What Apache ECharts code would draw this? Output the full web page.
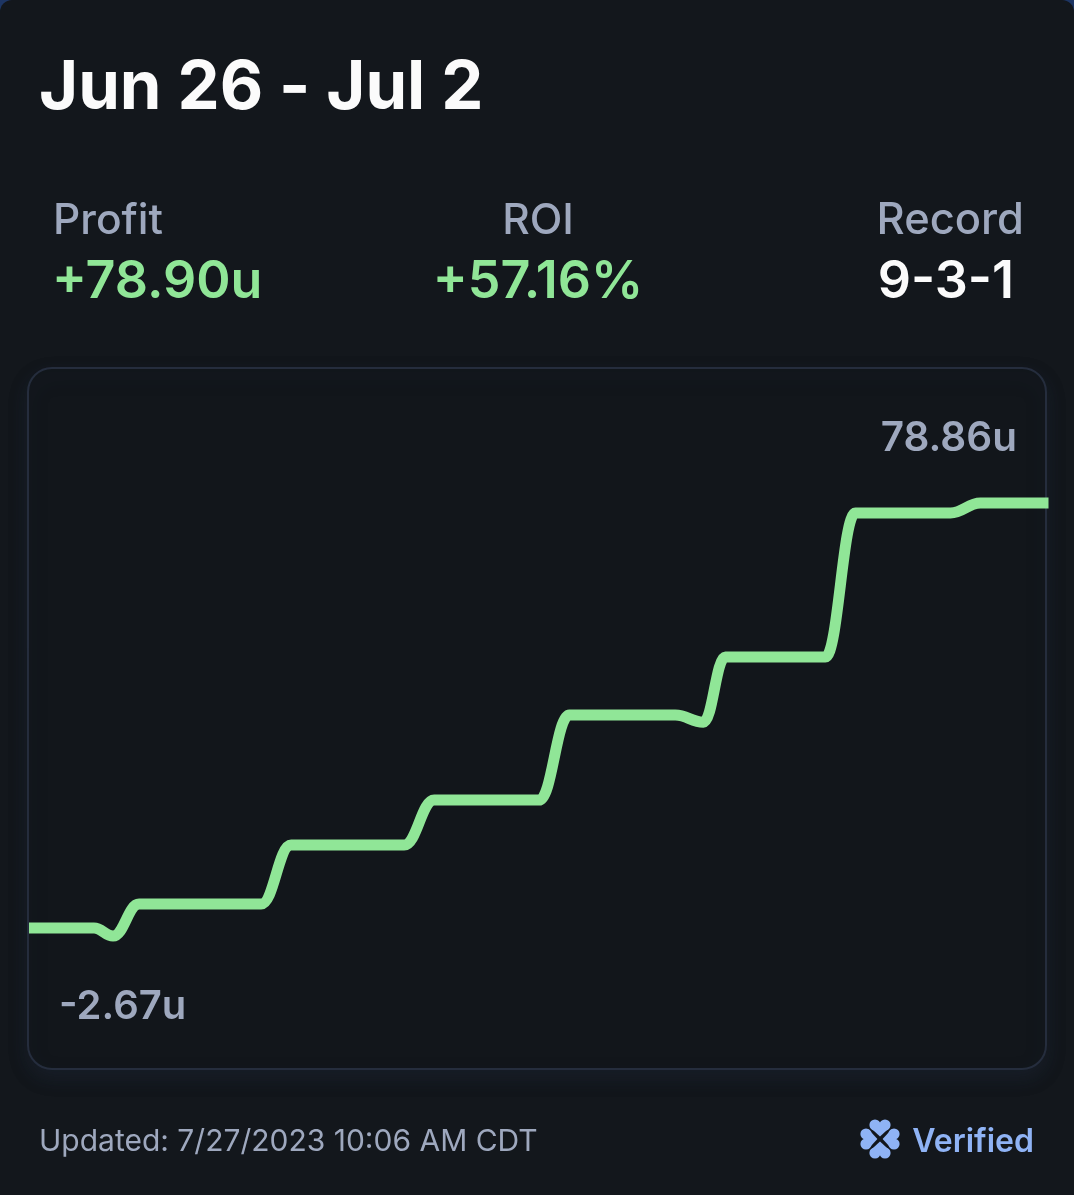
<!DOCTYPE html>
<html>
<head>
<meta charset="utf-8">
<title>Jun 26 - Jul 2</title>
<script src="https://cdn.jsdelivr.net/npm/echarts@6/dist/echarts.min.js"></script>
<style>
  html, body { margin: 0; padding: 0; background: #1d3563; }
  #chart { width: 1074px; height: 1195px; }
</style>
</head>
<body>
<div id="chart"></div>
<script>
// progress along the week
const progress = [0, 65, 84, 110, 232, 262, 375, 405, 510, 540, 646, 674, 696, 796, 826, 921, 951, 1019];
// running profit in units
const profit = [-1.16, -1.16, -2.67, 3.36, 3.36, 14.47, 14.47, 22.94, 22.94, 38.95, 38.95, 37.6, 49.87, 49.87, 76.99, 76.99, 78.86, 78.86];

const title = 'Jun 26 - Jul 2';
const statLabels = ['Profit', 'ROI', 'Record'];
const statValues = ['+78.90u', '+57.16%', '9-3-1'];
const lowLabel = '-2.67u';
const highLabel = '78.86u';
const updated = 'Updated: 7/27/2023 10:06 AM CDT';
const verified = 'Verified';

const FONT = 'Inter, "Noto Sans", sans-serif';
const GREY = '#9ea8be';
const GREEN = '#90e697';
const BLUE = '#8fb3f5';

function label(text, x, y, size, color, weight, align) {
  return {
    type: 'text',
    x: x,
    y: y,
    silent: true,
    z: 5,
    style: {
      text: text,
      fill: color,
      fontFamily: FONT,
      fontSize: size,
      fontWeight: weight || 400,
      align: align || 'left',
      verticalAlign: 'middle',
    },
  };
}

// clover badge: four hearts around one centre, points inward
const clover = [0, 90, 180, 270].map((deg) => ({
  type: 'group',
  x: 880,
  y: 1139,
  rotation: deg * Math.PI / 180,
  silent: true,
  z: 5,
  children: [
    { type: 'circle', z: 5, shape: { cx: -5, cy: -14, r: 5.6 }, style: { fill: BLUE } },
    { type: 'circle', z: 5, shape: { cx: 5, cy: -14, r: 5.6 }, style: { fill: BLUE } },
    {
      type: 'polygon',
      z: 5,
      shape: { points: [[0, -2.6], [-9.8, -11.6], [-5, -14], [5, -14], [9.8, -11.6]] },
      style: { fill: BLUE },
    },
  ],
}));

const chart = echarts.init(document.getElementById('chart'), null, { renderer: 'canvas' });

chart.setOption({
  backgroundColor: '#1d3563',
  animation: false,
  grid: { left: 29, top: 368, width: 1019.5, height: 701 },
  xAxis: { type: 'value', min: 0, max: 1019, show: false },
  yAxis: { type: 'value', min: -27.7, max: 104.3, show: false },
  series: [
    {
      type: 'line',
      data: progress.map((p, i) => [p, profit[i]]),
      smooth: 0.42,
      smoothMonotone: 'x',
      showSymbol: false,
      clip: false,
      lineStyle: { color: GREEN, width: 11, cap: 'butt', join: 'round' },
      z: 3,
    },
  ],
  graphic: [
    {
      type: 'rect',
      silent: true,
      z: -2,
      shape: { x: 0, y: 0, width: 1074, height: 1195, r: [12, 12, 0, 0] },
      style: { fill: '#13171c' },
    },
    {
      type: 'rect',
      silent: true,
      z: -1,
      shape: { x: 28, y: 368, width: 1018, height: 701, r: 24 },
      style: {
        fill: '#12161b',
        stroke: '#252d3d',
        lineWidth: 2,
        shadowColor: 'rgba(30,40,60,0.4)',
        shadowBlur: 18,
        shadowOffsetY: 8,
      },
    },
    label(title, 39, 89, 67, '#fbfbfb', 700),
    label(statLabels[0], 53, 221, 42.5, GREY, 500),
    label(statLabels[1], 538, 221, 42.5, GREY, 500, 'center'),
    label(statLabels[2], 1024, 221, 43.5, GREY, 500, 'right'),
    label(statValues[0], 52, 282, 52, GREEN, 600),
    label(statValues[1], 538, 282, 52, GREEN, 600, 'center'),
    label(statValues[2], 1014, 282, 52, '#fbfbfb', 600, 'right'),
    label(highLabel, 1017, 439, 40.5, GREY, 600, 'right'),
    label(lowLabel, 59, 1007, 40, GREY, 600),
    label(updated, 39, 1142, 30, GREY),
    label(verified, 1034, 1142, 32, BLUE, 600, 'right'),
    ...clover,
  ],
});
</script>
</body>
</html>
